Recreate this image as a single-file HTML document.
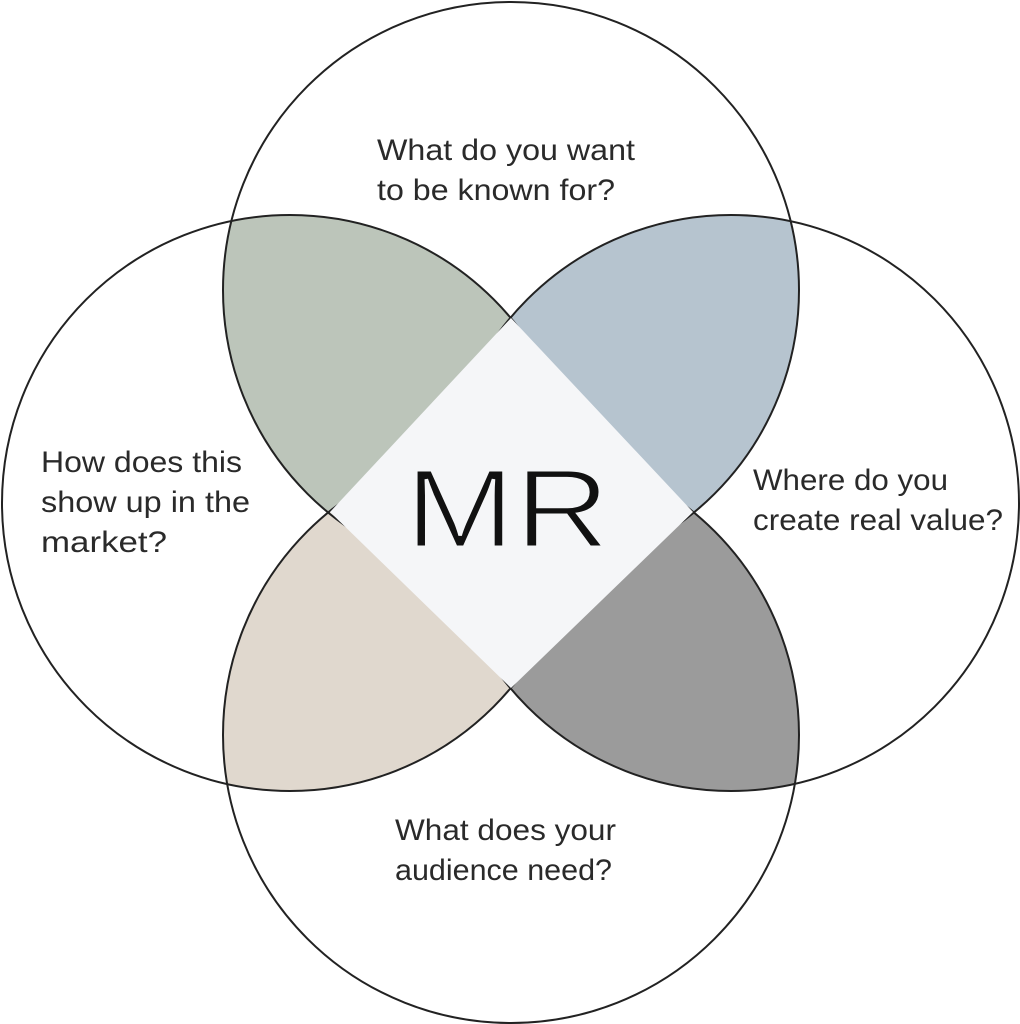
<!DOCTYPE html>
<html><head><meta charset="utf-8"><style>
html,body{margin:0;padding:0;background:#fff;}
svg{display:block;}
text{font-family:"Liberation Sans",sans-serif;font-size:30px;fill:#2a2a2a;}
</style></head><body>
<svg width="1020" height="1024" viewBox="0 0 1020 1024" xmlns="http://www.w3.org/2000/svg">
<defs>
<clipPath id="cT"><circle cx="511" cy="290" r="288"/></clipPath>
<clipPath id="cB"><circle cx="511" cy="735" r="288"/></clipPath>
</defs>
<g clip-path="url(#cT)">
<circle cx="290" cy="503" r="288" fill="#bcc5ba"/>
<circle cx="731" cy="503" r="288" fill="#b6c4cf"/>
</g>
<g clip-path="url(#cB)">
<circle cx="290" cy="503" r="288" fill="#e0d8ce"/>
<circle cx="731" cy="503" r="288" fill="#9b9b9b"/>
</g>
<g fill="none" stroke="#222" stroke-width="2">
<circle cx="511" cy="290" r="288"/>
<circle cx="511" cy="735" r="288"/>
<circle cx="290" cy="503" r="288"/>
<circle cx="731" cy="503" r="288"/>
</g>
<polygon points="511,318 693,512 511,688 330,512" fill="#f5f6f8"/>
<text x="377" y="160" textLength="258" lengthAdjust="spacingAndGlyphs">What do you want</text>
<text x="377" y="200" textLength="238" lengthAdjust="spacingAndGlyphs">to be known for?</text>
<text x="41" y="472" textLength="201" lengthAdjust="spacingAndGlyphs">How does this</text>
<text x="41" y="512" textLength="209" lengthAdjust="spacingAndGlyphs">show up in the</text>
<text x="41" y="552" textLength="126" lengthAdjust="spacingAndGlyphs">market?</text>
<text x="753" y="490" textLength="195" lengthAdjust="spacingAndGlyphs">Where do you</text>
<text x="753" y="530" textLength="250" lengthAdjust="spacingAndGlyphs">create real value?</text>
<text x="395" y="840" textLength="221" lengthAdjust="spacingAndGlyphs">What does your</text>
<text x="395" y="880" textLength="217" lengthAdjust="spacingAndGlyphs">audience need?</text>
<text x="405" y="547" style="font-family:'Liberation Sans',sans-serif;font-size:112px;fill:#111;stroke:#f5f6f8;stroke-width:3" textLength="205" lengthAdjust="spacingAndGlyphs">MR</text>
</svg>
</body></html>
